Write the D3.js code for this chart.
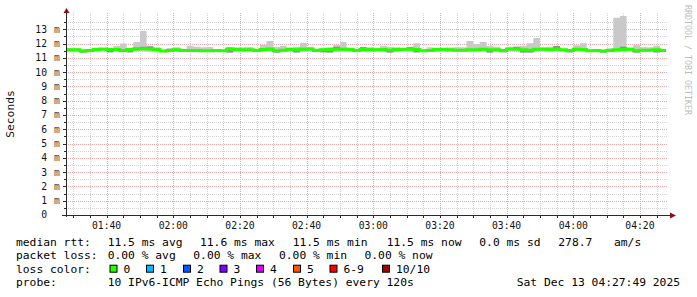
<!DOCTYPE html>
<html>
<head>
<meta charset="utf-8">
<script src="https://cdn.jsdelivr.net/npm/d3@7"></script>
<style>
  body { margin: 0; background: #fff; }
  svg { display: block; }
  text { font-family: "DejaVu Sans Mono", monospace; }
</style>
</head>
<body>
<svg id="chart" width="697" height="297"></svg>
<script>
// ---- data (2 min steps, first step starts 01:28 UTC) ----
const firstStep = Date.UTC(2025, 11, 13, 1, 28, 0);
const stepSec = 120;

const median = [11.56,11.56,11.48,11.52,11.58,11.62,11.58,11.58,11.52,11.58,
  11.62,11.63,11.62,11.58,11.48,11.52,11.56,11.52,11.52,11.52,
  11.50,11.50,11.52,11.50,11.62,11.58,11.56,11.56,11.52,11.58,
  11.60,11.50,11.54,11.60,11.56,11.60,11.62,11.52,11.56,11.58,
  11.60,11.60,11.58,11.52,11.58,11.58,11.56,11.58,11.54,11.58,
  11.60,11.60,11.58,11.50,11.52,11.58,11.60,11.56,11.54,11.54,
  11.56,11.56,11.60,11.56,11.56,11.52,11.62,11.62,11.56,11.54,
  11.60,11.60,11.58,11.62,11.56,11.52,11.60,11.58,11.50,11.52,
  11.48,11.52,11.56,11.58,11.60,11.50,11.54,11.54,11.56,11.52];

const smokeHi = [11.68,11.68,11.60,11.55,11.70,11.65,11.65,11.83,12.00,11.65,
  12.11,12.88,11.85,11.74,11.52,11.69,11.74,11.56,11.83,11.78,
  11.74,11.76,11.55,11.54,11.66,11.74,11.74,11.76,11.56,11.90,
  12.18,11.78,11.83,11.70,11.78,12.04,11.78,11.56,11.69,11.74,
  11.90,12.11,11.72,11.56,11.78,11.74,11.69,11.83,11.78,11.74,
  11.64,11.78,12.02,11.54,11.74,11.62,11.64,11.72,11.74,11.74,
  12.18,11.95,12.11,11.83,11.78,11.56,11.78,11.78,11.83,12.02,
  12.39,11.74,11.78,11.83,11.60,11.56,11.88,12.02,11.54,11.56,
  11.52,11.67,13.81,13.93,11.72,11.90,11.74,11.74,11.83,11.56];

const smokeLo = [11.42,11.42,11.36,11.42,11.43,11.46,11.37,11.43,11.42,11.37,
  11.46,11.46,11.42,11.42,11.38,11.42,11.43,11.42,11.42,11.42,
  11.41,11.41,11.42,11.41,11.36,11.44,11.42,11.42,11.42,11.43,
  11.42,11.36,11.42,11.44,11.37,11.43,11.46,11.42,11.37,11.36,
  11.43,11.44,11.42,11.42,11.43,11.43,11.42,11.43,11.36,11.43,
  11.46,11.44,11.37,11.41,11.42,11.43,11.44,11.42,11.42,11.42,
  11.42,11.42,11.44,11.36,11.42,11.37,11.46,11.46,11.36,11.36,
  11.44,11.44,11.43,11.46,11.42,11.36,11.44,11.43,11.41,11.42,
  11.36,11.42,11.40,11.42,11.44,11.36,11.42,11.42,11.36,11.42];

const innerHi = [11.58,11.58,11.50,11.53,11.60,11.63,11.60,11.60,11.54,11.60,
  11.72,11.78,11.80,11.60,11.50,11.54,11.58,11.54,11.54,11.54,
  11.52,11.52,11.54,11.52,11.72,11.60,11.58,11.58,11.54,11.60,
  11.70,11.52,11.56,11.69,11.58,11.62,11.64,11.54,11.58,11.60,
  11.78,11.62,11.60,11.54,11.74,11.60,11.58,11.60,11.56,11.60,
  11.62,11.74,11.60,11.52,11.54,11.60,11.62,11.58,11.56,11.56,
  11.58,11.58,11.62,11.58,11.58,11.54,11.64,11.78,11.58,11.56,
  11.62,11.62,11.60,11.83,11.58,11.54,11.62,11.60,11.52,11.54,
  11.50,11.54,11.60,11.78,11.62,11.52,11.56,11.56,11.58,11.54];

const innerLo = [11.52,11.52,11.38,11.48,11.54,11.58,11.40,11.54,11.48,11.40,
  11.58,11.58,11.58,11.54,11.44,11.48,11.52,11.48,11.48,11.48,
  11.46,11.46,11.48,11.46,11.38,11.54,11.52,11.52,11.48,11.54,
  11.56,11.38,11.50,11.56,11.38,11.56,11.58,11.48,11.39,11.38,
  11.56,11.56,11.54,11.48,11.54,11.54,11.52,11.54,11.38,11.54,
  11.56,11.56,11.39,11.46,11.48,11.54,11.56,11.52,11.50,11.50,
  11.52,11.52,11.56,11.38,11.52,11.40,11.58,11.58,11.38,11.38,
  11.56,11.56,11.54,11.58,11.52,11.39,11.56,11.54,11.46,11.48,
  11.38,11.48,11.52,11.54,11.56,11.38,11.50,11.50,11.39,11.48];

const yTickValues = [1,2,3,4,5,6,7,8,9,10,11,12,13];
const lossLabels = ["0", "1", "2", "3", "4", "5", "6-9", "10/10"];
const lossColors = ["#26ff00", "#00b8ff", "#0059ff", "#7e00ff", "#dd00ff", "#ff5500", "#ff0000", "#a10000"];

const rttStats = ["11.5 ms avg", "11.6 ms max", "11.5 ms min", "11.5 ms now", "0.0 ms sd", "278.7", "am/s"];
const lossStats = ["0.00 % avg", "0.00 % max", "0.00 % min", "0.00 % now"];
const probeText = "10 IPv6-ICMP Echo Pings (56 Bytes) every 120s";
const stampText = "Sat Dec 13 04:27:49 2025";

// ---- layout ----
const svg = d3.select("#chart");
const plotLeft = 66, plotRight = 666, plotTop = 15, plotBottom = 215;

const x = d3.scaleUtc()
  .domain([new Date(Date.UTC(2025, 11, 13, 1, 27, 49)), new Date(Date.UTC(2025, 11, 13, 4, 27, 49))])
  .range([plotLeft, plotRight]);
const y = d3.scaleLinear().domain([0, 14]).range([plotBottom, plotTop]);

const minorGrid = "#d2d2d2";
const majorGrid = "#e7a7a7";

// grid
const grid = svg.append("g");
x.ticks(d3.utcMinute.every(5)).forEach(t => {
  const major = t.getUTCMinutes() % 20 === 0;
  grid.append("line")
    .attr("x1", Math.round(x(t)) + 0.5).attr("x2", Math.round(x(t)) + 0.5)
    .attr("y1", plotTop - 2).attr("y2", plotBottom)
    .attr("stroke", major ? majorGrid : minorGrid)
    .attr("stroke-dasharray", "1,1");
});
d3.range(1, 28).forEach(k => {
  const yy = Math.round(y(k / 2)) + 0.5;
  grid.append("line")
    .attr("x1", plotLeft).attr("x2", plotRight + 2)
    .attr("y1", yy).attr("y2", yy)
    .attr("stroke", k % 2 === 0 ? majorGrid : minorGrid)
    .attr("stroke-dasharray", "1,1");
});

// step points
const pts = median.map((m, i) => ({
  t: new Date(firstStep + i * stepSec * 1000),
  m, hi: smokeHi[i], lo: smokeLo[i], ihi: innerHi[i], ilo: innerLo[i]
}));
pts.push(Object.assign({}, pts[pts.length - 1], { t: new Date(firstStep + median.length * stepSec * 1000) }));

svg.append("clipPath").attr("id", "plotClip")
  .append("rect").attr("x", plotLeft + 1).attr("y", plotTop - 5)
  .attr("width", plotRight - plotLeft - 1).attr("height", plotBottom - plotTop + 5);

const plot = svg.append("g").attr("clip-path", "url(#plotClip)");

plot.append("path")
  .datum(pts)
  .attr("fill", "#c9c9c9")
  .attr("d", d3.area().curve(d3.curveStepAfter).x(d => x(d.t)).y0(d => y(d.lo)).y1(d => y(d.hi)));

plot.append("path")
  .datum(pts)
  .attr("fill", "#8f8f8f")
  .attr("d", d3.area().curve(d3.curveStepAfter).x(d => x(d.t)).y0(d => y(d.ilo)).y1(d => y(d.ihi)));

plot.append("path")
  .datum(pts)
  .attr("fill", "none")
  .attr("stroke", lossColors[0])
  .attr("stroke-width", 3)
  .attr("d", d3.line().curve(d3.curveStepAfter).x(d => x(d.t)).y(d => y(d.m)));

// axes
const axisCol = "#2a2a2a";
const arrowCol = "#8b1111";
svg.append("line").attr("x1", plotLeft + 0.5).attr("x2", plotLeft + 0.5).attr("y1", plotBottom + 2).attr("y2", 12)
  .attr("stroke", axisCol);
svg.append("line").attr("x1", plotLeft - 4).attr("x2", plotRight + 5)
  .attr("y1", plotBottom + 0.5).attr("y2", plotBottom + 0.5)
  .attr("stroke", axisCol);
svg.append("path").attr("d", `M${plotLeft + 0.5},8 L${plotLeft - 2.5},13 L${plotLeft + 3.5},13 Z`).attr("fill", arrowCol);
svg.append("path")
  .attr("d", `M${plotRight + 10},${plotBottom + 0.5} L${plotRight + 4},${plotBottom - 2.5} L${plotRight + 4},${plotBottom + 3.5} Z`)
  .attr("fill", arrowCol);

// ticks
x.ticks(d3.utcMinute.every(5)).forEach(t => {
  svg.append("line")
    .attr("x1", Math.round(x(t)) + 0.5).attr("x2", Math.round(x(t)) + 0.5)
    .attr("y1", plotBottom).attr("y2", plotBottom + 3)
    .attr("stroke", axisCol);
});
d3.range(1, 28).forEach(k => {
  const yy = Math.round(y(k / 2)) + 0.5;
  svg.append("line").attr("x1", plotLeft - (k % 2 === 0 ? 3 : 2)).attr("x2", plotLeft)
    .attr("y1", yy).attr("y2", yy).attr("stroke", axisCol);
});

// y labels
const yl = svg.append("g").attr("font-size", 9.7).attr("fill", "#111");
yl.append("text").attr("x", 47).attr("y", y(0)).attr("dy", "0.35em").attr("text-anchor", "end").text("0");
yTickValues.forEach(v => {
  yl.append("text").attr("x", 47).attr("y", y(v)).attr("dy", "0.35em").attr("text-anchor", "end").text(v);
  yl.append("text").attr("x", 54).attr("y", y(v)).attr("dy", "0.35em").attr("fill", "#444").text("m");
});

// x labels
const fmt = d3.utcFormat("%H:%M");
x.ticks(d3.utcMinute.every(20)).forEach(t => {
  svg.append("text").attr("x", x(t)).attr("y", 228.5).attr("text-anchor", "middle")
    .attr("font-size", 9.7).attr("fill", "#111").text(fmt(t));
});

// axis title
svg.append("text").attr("transform", "translate(14,114) rotate(-90)").attr("text-anchor", "middle")
  .attr("font-size", 11.3).attr("fill", "#111").text("Seconds");

svg.append("text").attr("transform", "translate(685,5) rotate(90)")
  .attr("font-size", 8.3).attr("fill", "#bdbdbd").text("RRDTOOL / TOBI OETIKER");

// legend
const lg = svg.append("g").attr("font-size", 11.3).attr("fill", "#000");
const rows = [245.5, 259, 272.7, 286.3];
lg.append("text").attr("x", 16).attr("y", rows[0]).text("median rtt:");
[107.7, 200, 292.7, 386.7, 479.3, 558.3, 614].forEach((xx, i) => {
  lg.append("text").attr("x", xx).attr("y", rows[0]).text(rttStats[i]);
});
lg.append("text").attr("x", 16).attr("y", rows[1]).text("packet loss:");
[107.7, 193.3, 279, 364.5].forEach((xx, i) => {
  lg.append("text").attr("x", xx).attr("y", rows[1]).text(lossStats[i]);
});
lg.append("text").attr("x", 16).attr("y", rows[2]).text("loss color:");
[109.5, 146, 183, 219.5, 256, 293, 329.5, 382].forEach((xx, i) => {
  lg.append("rect").attr("x", xx + 0.5).attr("y", rows[2] - 7.5).attr("width", 7).attr("height", 7)
    .attr("fill", lossColors[i]).attr("stroke", "#000");
  lg.append("text").attr("x", xx + 14).attr("y", rows[2]).text(lossLabels[i]);
});
lg.append("text").attr("x", 16).attr("y", rows[3]).text("probe:");
lg.append("text").attr("x", 107.7).attr("y", rows[3]).text(probeText);
lg.append("text").attr("x", 680).attr("y", rows[3]).attr("text-anchor", "end").text(stampText);
</script>
</body>
</html>
